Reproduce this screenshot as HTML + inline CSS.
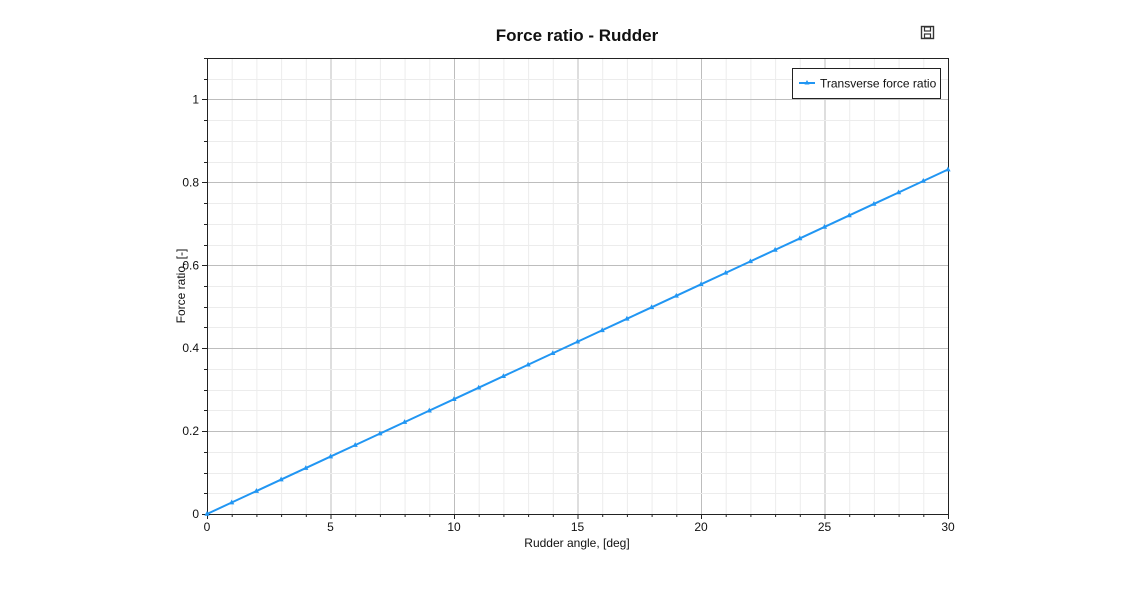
<!DOCTYPE html>
<html><head><meta charset="utf-8"><style>
body{margin:0;background:#fff;font-family:"Liberation Sans",sans-serif}
</style></head><body>
<svg id="chart" width="1125" height="585" xmlns="http://www.w3.org/2000/svg">
<text x="577" y="41" text-anchor="middle" font-size="17" font-weight="bold" fill="#111">Force ratio - Rudder</text>
<g>
<rect x="921.5" y="26.5" width="12" height="12" fill="none" stroke="#333" stroke-width="1.4"/>
<rect x="924.5" y="27" width="6" height="4" fill="none" stroke="#333" stroke-width="1.2"/>
<rect x="924.5" y="34" width="6" height="4" fill="none" stroke="#333" stroke-width="1.2"/>
</g>
<g id="grid"></g>
<g id="axes"></g>
<g id="series"></g>
<g>
<rect x="792.5" y="68.5" width="148" height="30" fill="#fff" stroke="#222"/>
<line x1="799" y1="83" x2="815" y2="83" stroke="#2196f3" stroke-width="2"/>
<path d="M807,80 L809.5,84.5 L804.5,84.5 Z" fill="#2196f3"/>
<text x="820" y="87.5" font-size="12" fill="#111">Transverse force ratio</text>
</g>
<text x="577" y="547" text-anchor="middle" font-size="12" fill="#111">Rudder angle, [deg]</text>
<text transform="translate(185,286) rotate(-90)" text-anchor="middle" font-size="12" fill="#111">Force ratio, [-]</text>
</svg>
<script>
const xValues=[0,1,2,3,4,5,6,7,8,9,10,11,12,13,14,15,16,17,18,19,20,21,22,23,24,25,26,27,28,29,30];
const yValues=[0,0.0277,0.0554,0.0831,0.1108,0.1385,0.1662,0.1939,0.2216,0.2493,0.277,0.3047,0.3324,0.3601,0.3878,0.4155,0.4432,0.4709,0.4986,0.5263,0.554,0.5817,0.6094,0.6371,0.6648,0.6925,0.7202,0.7479,0.7756,0.8033,0.831];
const xTicks=[0,5,10,15,20,25,30];
const yTicks=[0,0.2,0.4,0.6,0.8,1];
const X0=207,X1=948,Y0=514,Y1=58,xMax=30,yMax=1.1;
const sx=v=>X0+v/xMax*(X1-X0);
const sy=v=>Y0-v/yMax*(Y0-Y1);
const NS="http://www.w3.org/2000/svg";
function mk(p,t,a){const e=document.createElementNS(NS,t);for(const k in a)e.setAttribute(k,a[k]);p.appendChild(e);return e;}
const grid=document.getElementById('grid'),axes=document.getElementById('axes'),series=document.getElementById('series');
for(let i=0;i<=30;i++){const x=sx(i)+0.5;const major=i%5===0;
 const l=mk(grid,'line',{x1:x,x2:x,y1:Y1,y2:Y0,stroke:major?'#bdbdbd':'#ececec','stroke-width':1});
 
 mk(axes,'line',{x1:x,x2:x,y1:Y0,y2:Y0+(major?5:3),stroke:'#222'});}
for(let i=0;i<=22;i++){const v=i*0.05;const y=Math.round(sy(v))+0.5;const major=i%4===0;
 const l=mk(grid,'line',{x1:X0,x2:X1,y1:y,y2:y,stroke:major?'#bdbdbd':'#ececec','stroke-width':1});
 
 mk(axes,'line',{x1:X0-(major?5:3),x2:X0,y1:y,y2:y,stroke:'#222'});}
const fr=mk(axes,'rect',{x:X0+0.5,y:Y1+0.5,width:X1-X0,height:Y0-Y1,fill:'none',stroke:'#222'});

xTicks.forEach(v=>{const t=mk(axes,'text',{x:sx(v),y:Y0+17,'text-anchor':'middle','font-size':12,fill:'#111'});t.textContent=v;
 });
yTicks.forEach(v=>{const t=mk(axes,'text',{x:X0-8,y:sy(v)+4,'text-anchor':'end','font-size':12,fill:'#111'});t.textContent=v;
 });
const pts=xValues.map((x,i)=>sx(x)+','+sy(yValues[i])).join(' ');
const pl=mk(series,'polyline',{points:pts,fill:'none',stroke:'#2196f3','stroke-width':2});

xValues.forEach((x,i)=>{const cx=sx(x),cy=sy(yValues[i]);
 const m=mk(series,'path',{d:`M${cx},${cy-3} L${cx+2.6},${cy+1.8} L${cx-2.6},${cy+1.8} Z`,fill:'#2196f3'});
 });
</script>
</body></html>
